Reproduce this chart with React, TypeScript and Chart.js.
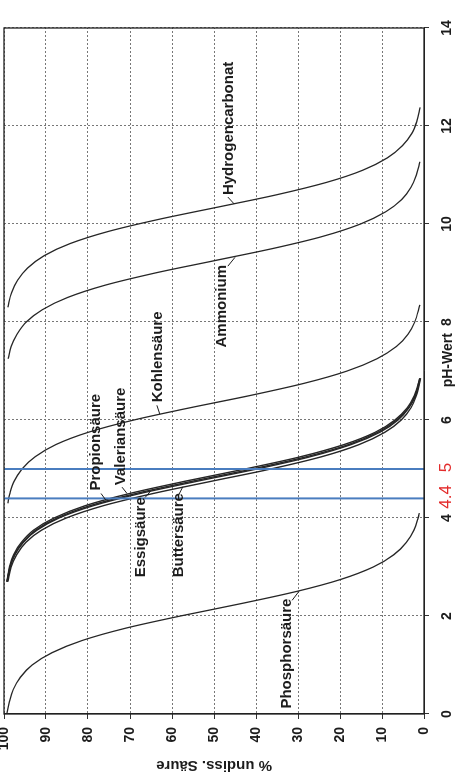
import React, { useEffect, useRef } from 'react';
import { Chart, registerables } from 'chart.js';

Chart.register(...registerables);

// ---- data (pH values and % undissociated acid) ----
const phosphorPh = [0, 0.25, 0.5, 0.75, 1.0, 1.25, 1.5, 1.75, 2.0, 2.25, 2.5, 2.75, 3.0, 3.25, 3.5, 3.75, 4.0, 4.1];
const phosphorPct = [99.3, 98.7, 97.8, 96.1, 93.3, 88.6, 81.4, 71.1, 58.0, 43.7, 30.4, 19.7, 12.1, 7.2, 4.2, 2.4, 1.4, 1.1];

const fattyPh = [2.7, 3.0, 3.25, 3.5, 3.75, 4.0, 4.25, 4.5, 4.75, 5.0, 5.25, 5.5, 5.75, 6.0, 6.25, 6.5, 6.85];
const essigPct = [99.1, 98.3, 97.0, 94.8, 91.1, 85.2, 76.4, 64.5, 50.6, 36.5, 24.4, 15.4, 9.3, 5.4, 3.1, 1.8, 0.8];
const butterPct = [99.3, 98.5, 97.4, 95.4, 92.2, 86.9, 78.8, 67.6, 54.0, 39.8, 27.1, 17.3, 10.5, 6.2, 3.6, 2.0, 0.9];
const valerianPct = [99.3, 98.6, 97.5, 95.6, 92.5, 87.4, 79.6, 68.6, 55.2, 40.9, 28.0, 17.9, 11.0, 6.5, 3.7, 2.1, 1.0];
const propionPct = [99.3, 98.7, 97.7, 95.9, 93.0, 88.1, 80.7, 70.1, 56.9, 42.6, 29.4, 19.0, 11.6, 6.9, 4.0, 2.3, 1.0];

const kohlenPh = [4.3, 4.5, 4.75, 5.0, 5.25, 5.5, 5.75, 6.0, 6.25, 6.5, 6.75, 7.0, 7.25, 7.5, 7.75, 8.0, 8.35];
const kohlenPct = [99.1, 98.6, 97.6, 95.7, 92.6, 87.6, 79.9, 69.1, 55.7, 41.4, 28.5, 18.3, 11.2, 6.6, 3.8, 2.2, 1.0];

const ammonPh = [7.25, 7.5, 7.75, 8.0, 8.25, 8.5, 8.75, 9.0, 9.25, 9.5, 9.75, 10.0, 10.25, 10.5, 10.75, 11.0, 11.27];
const ammonPct = [99.0, 98.3, 96.9, 94.7, 90.9, 84.9, 76.0, 64.0, 50.0, 36.0, 24.0, 15.1, 9.1, 5.3, 3.1, 1.8, 1.0];

const hydroPh = [8.3, 8.6, 8.85, 9.1, 9.35, 9.6, 9.85, 10.1, 10.35, 10.6, 10.85, 11.1, 11.35, 11.6, 11.85, 12.1, 12.38];
const hydroPct = [99.1, 98.2, 96.8, 94.4, 90.5, 84.3, 75.1, 62.9, 48.8, 34.9, 23.2, 14.5, 8.7, 5.1, 2.9, 1.7, 0.9];

const markerPh = [4.4, 5];
const markerLabels = ['4.4', '5'];

const xTitle = 'pH-Wert';
const yTitle = '% undiss. Säure';

// curve labels: text, start pH, % (vertical centre), leader line from (pH1,%1) to (pH2,%2)
const curveLabels = ['Phosphorsäure', 'Essigsäure', 'Buttersäure', 'Propionsäure', 'Valeriansäure', 'Kohlensäure', 'Ammonium', 'Hydrogencarbonat'];
const labelPh = [0.11, 2.79, 2.79, 4.56, 4.67, 6.36, 7.48, 10.59];
const labelPct = [32.6, 67.4, 58.3, 78.1, 72.1, 63.3, 48.1, 46.4];
const leadPh1 = [2.32, 4.42, 4.44, 4.5, 4.63, 6.3, 9.14, 10.55];
const leadPct1 = [31.4, 66.4, 58.6, 76.9, 71.9, 63.6, 46.7, 46.7];
const leadPh2 = [2.5, 4.56, 4.64, 4.36, 4.5, 6.12, 9.32, 10.41];
const leadPct2 = [29.8, 65.0, 57.4, 75.7, 70.7, 62.9, 45.0, 45.2];

const FONT = '"Liberation Sans", Arial, sans-serif';
const INK = '#1c1c1c';

const pts = (xs: number[], ys: number[]) => xs.map((x, i) => ({ x, y: ys[i] }));

const annotate = {
  id: 'annotate',
  afterDatasetsDraw(chart: any) {
    const { ctx, scales } = chart;
    const x = scales.x;
    const y = scales.y;
    ctx.save();
    ctx.fillStyle = INK;
    ctx.strokeStyle = INK;
    ctx.lineWidth = 1;
    ctx.font = `bold 15px ${FONT}`;
    ctx.textBaseline = 'middle';
    ctx.textAlign = 'left';
    curveLabels.forEach((t, i) => {
      ctx.fillText(t, x.getPixelForValue(labelPh[i]), y.getPixelForValue(labelPct[i]));
      ctx.beginPath();
      ctx.moveTo(x.getPixelForValue(leadPh1[i]), y.getPixelForValue(leadPct1[i]));
      ctx.lineTo(x.getPixelForValue(leadPh2[i]), y.getPixelForValue(leadPct2[i]));
      ctx.stroke();
    });
    ctx.restore();
  },
  afterDraw(chart: any) {
    const { ctx, chartArea, scales } = chart;
    const x = scales.x;
    ctx.save();
    ctx.strokeStyle = '#222';
    ctx.lineWidth = 1.3;
    ctx.strokeRect(chartArea.left, chartArea.top, chartArea.right - chartArea.left, chartArea.bottom - chartArea.top);
    ctx.fillStyle = INK;
    ctx.font = `bold 14px ${FONT}`;
    ctx.textAlign = 'center';
    ctx.textBaseline = 'alphabetic';
    ctx.fillText(xTitle, x.getPixelForValue(7.22), chartArea.bottom + 28);
    ctx.fillStyle = '#e32b2b';
    ctx.font = `17px ${FONT}`;
    markerLabels.forEach((t, i) => {
      ctx.fillText(t, x.getPixelForValue(markerPh[i] + 0.03), chartArea.bottom + 26.5);
    });
    ctx.restore();
  },
};

export default function App() {
  const ref = useRef<HTMLCanvasElement | null>(null);

  useEffect(() => {
    document.body.style.margin = '0';
    const canvas = ref.current;
    if (!canvas) return;
    const curve = (data: any, width = 1.3) => ({
      data,
      borderColor: '#262626',
      borderWidth: width,
      pointRadius: 0,
      fill: false,
      cubicInterpolationMode: 'monotone' as const,
    });
    const marker = (ph: number) => ({
      data: [{ x: ph, y: 0 }, { x: ph, y: 100.5 }],
      borderColor: '#4a7dbf',
      borderWidth: 2,
      pointRadius: 0,
      fill: false,
    });
    const chart = new Chart(canvas, {
      type: 'line',
      data: {
        datasets: [
          marker(markerPh[0]),
          marker(markerPh[1]),
          curve(pts(phosphorPh, phosphorPct)),
          curve(pts(fattyPh, essigPct), 1.4),
          curve(pts(fattyPh, butterPct), 1.4),
          curve(pts(fattyPh, valerianPct), 1.4),
          curve(pts(fattyPh, propionPct), 1.4),
          curve(pts(kohlenPh, kohlenPct)),
          curve(pts(ammonPh, ammonPct)),
          curve(pts(hydroPh, hydroPct)),
        ] as any,
      },
      options: {
        animation: false,
        responsive: false,
        devicePixelRatio: 1,
        layout: { padding: { left: 0, top: 4, right: 28, bottom: 0 } },
        plugins: { legend: { display: false }, tooltip: { enabled: false } },
        scales: {
          x: {
            type: 'linear',
            min: 0,
            max: 14,
            ticks: { stepSize: 2, font: { family: FONT, size: 14, weight: 'bold' }, color: INK, padding: 10, maxRotation: 0 },
            grid: { color: '#777', lineWidth: 1, tickLength: 5, tickColor: '#333', tickWidth: 1 },
            border: { display: true, color: '#222', dash: [2, 2] },
            afterFit: (s: any) => {
              s.height = 36;
              s.paddingLeft = 0;
              s.paddingRight = 0;
            },
          },
          y: {
            type: 'linear',
            min: 0,
            max: 100,
            ticks: { stepSize: 10, font: { family: FONT, size: 14, weight: 'bold' }, color: INK, padding: 8 },
            grid: { color: '#777', lineWidth: 1, tickLength: 5, tickColor: '#333', tickWidth: 1 },
            border: { display: true, color: '#222', dash: [2, 2] },
            title: { display: true, text: yTitle, font: { family: FONT, size: 15, weight: 'bold' }, color: INK, padding: 0 },
            afterFit: (s: any) => {
              s.width = 60;
              s.paddingTop = 0;
              s.paddingBottom = 0;
            },
          },
        },
      } as any,
      plugins: [annotate],
    });
    return () => chart.destroy();
  }, []);

  return (
    <div style={{ position: 'fixed', left: 0, top: 0, width: 460, height: 774, overflow: 'hidden', background: '#fff' }}>
      <canvas
        ref={ref}
        width={774}
        height={460}
        style={{ position: 'absolute', left: 0, top: 0, width: 774, height: 460, transformOrigin: '0 0', transform: 'translateY(774px) rotate(-90deg)' }}
      />
    </div>
  );
}
